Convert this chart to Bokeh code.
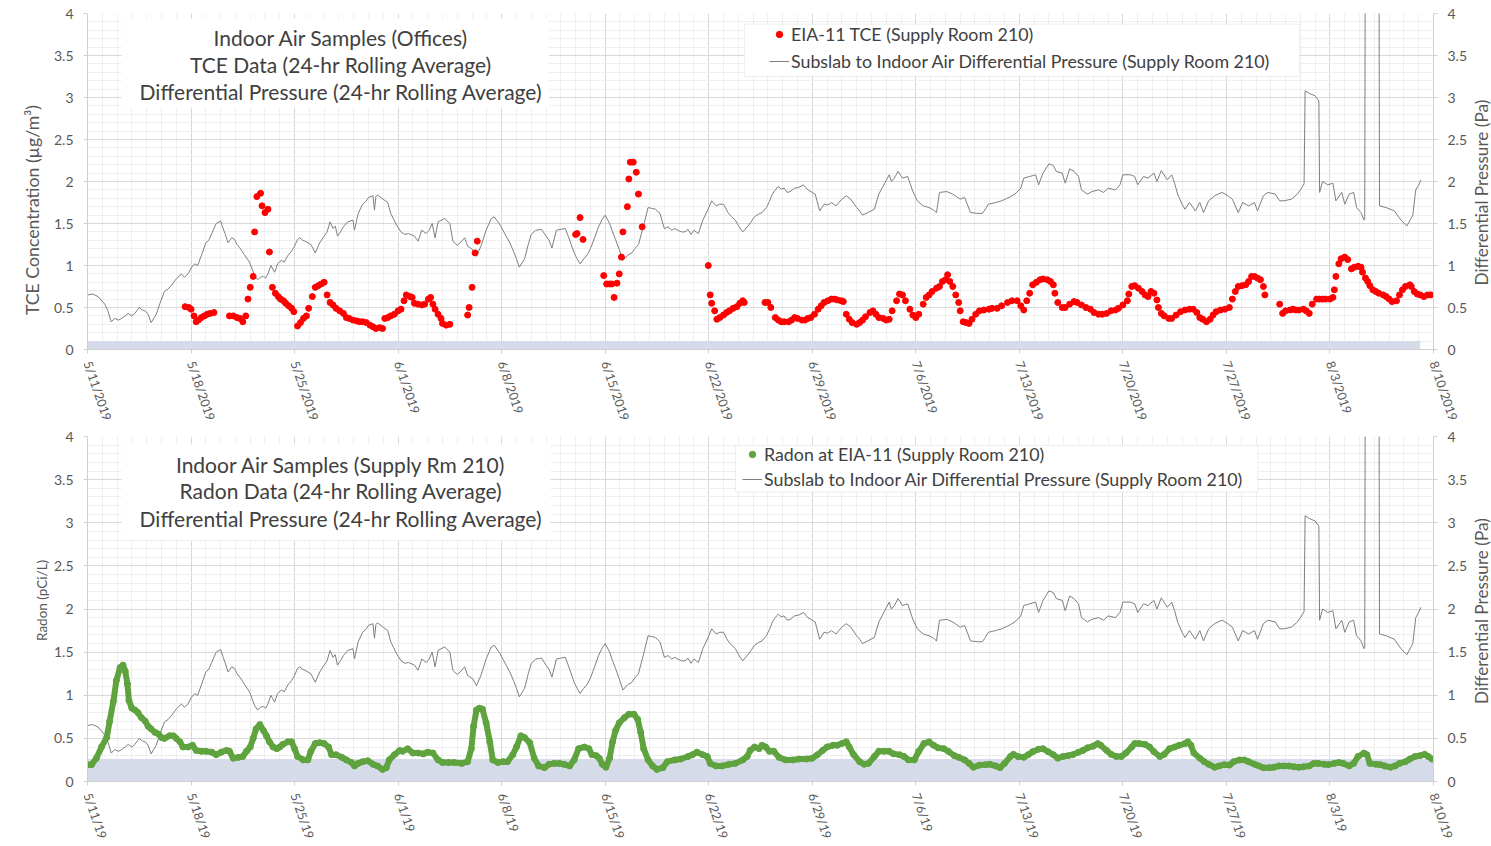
import math
from bokeh.plotting import figure
from bokeh.layouts import column, row
from bokeh.models import (Range1d, LinearAxis, FixedTicker, Legend, LegendItem,
                          BoxAnnotation, Label)
from bokeh.embed import file_html
from bokeh.resources import INLINE

FONT = "Lato"

# ---------------------------------------------------------------- axes / ticks
week_ticks = [0, 7, 14, 21, 28, 35, 42, 49, 56, 63, 70, 77, 84, 91]
day_ticks = list(range(0, 92))
tce_date_labels = ["5/11/2019", "5/18/2019", "5/25/2019", "6/1/2019", "6/8/2019",
                   "6/15/2019", "6/22/2019", "6/29/2019", "7/6/2019", "7/13/2019",
                   "7/20/2019", "7/27/2019", "8/3/2019", "8/10/2019"]
radon_date_labels = ["5/11/19", "5/18/19", "5/25/19", "6/1/19", "6/8/19",
                     "6/15/19", "6/22/19", "6/29/19", "7/6/19", "7/13/19",
                     "7/20/19", "7/27/19", "8/3/19", "8/10/19"]
y_ticks = [0, 0.5, 1, 1.5, 2, 2.5, 3, 3.5, 4]
y_tick_labels = ["0", "0.5", "1", "1.5", "2", "2.5", "3", "3.5", "4"]
y_minor = [i / 10 for i in range(41)]

# ------------------------------------------- differential pressure (Pa), days since 5/11/2019
dp_day = [0.0, 0.35, 0.72, 1.17, 1.4, 1.6, 1.85, 2.1, 2.3, 2.55, 2.75, 3.0, 3.2, 3.5, 3.7, 3.9, 4.1, 4.3, 4.65, 4.9,
          5.2, 5.45, 5.7, 6.0, 6.35, 6.55, 6.8, 7.0, 7.25, 7.45, 7.7, 8.0, 8.2, 8.4, 8.7, 9.0, 9.15, 9.3, 9.5, 9.75,
          9.95, 10.1, 10.3, 10.6, 10.95, 11.3, 11.5, 11.7, 11.9, 12.05, 12.2, 12.4, 12.65, 12.85, 13.1, 13.3, 13.55, 13.8, 14.0, 14.2,
          14.35, 14.55, 14.7, 15.1, 15.4, 15.7, 16.0, 16.2, 16.4, 16.6, 16.75, 16.9, 17.1, 17.3, 17.6, 17.95, 18.05, 18.3, 18.6, 18.8,
          19.0, 19.3, 19.4, 19.5, 19.6, 19.98, 20.3, 20.5, 20.7, 20.9, 21.2, 21.45, 21.7, 22.1, 22.35, 22.6, 22.9, 23.1, 23.3, 23.5,
          23.7, 24.15, 24.5, 24.7, 25.0, 25.25, 25.5, 25.7, 26.05, 26.3, 26.6, 26.95, 27.3, 27.5, 27.9, 28.3, 28.55, 28.8, 29.0, 29.2,
          29.55, 29.8, 30.0, 30.3, 30.7, 31.0, 31.2, 31.4, 31.7, 32.0, 32.3, 32.5, 32.7, 32.9, 33.1, 33.3, 33.55, 33.8, 34.0, 34.2,
          34.55, 34.8, 35.0, 35.3, 35.5, 35.7, 35.95, 36.2, 36.5, 36.8, 37.0, 37.25, 37.6, 37.9, 38.15, 38.4, 38.7, 39.0, 39.25, 39.5,
          39.7, 39.9, 40.15, 40.4, 40.6, 40.8, 41.0, 41.3, 41.6, 41.96, 42.2, 42.5, 42.75, 43.0, 43.3, 43.55, 43.8, 44.05, 44.3, 44.7,
          45.1, 45.35, 45.6, 45.9, 46.1, 46.3, 46.5, 46.7, 46.9, 47.1, 47.3, 47.5, 47.8, 48.1, 48.4, 48.7, 49.0, 49.2, 49.5, 49.8,
          50.05, 50.3, 50.6, 51.0, 51.3, 51.6, 52.0, 52.2, 52.4, 52.75, 53.2, 53.5, 53.9, 54.2, 54.35, 54.55, 54.8, 55.1, 55.45, 55.8,
          56.1, 56.5, 56.9, 57.2, 57.4, 57.6, 58.1, 58.5, 59.0, 59.3, 59.7, 60.2, 60.5, 60.7, 60.9, 61.4, 61.8, 62.3, 62.7, 63.1,
          63.3, 63.7, 64.1, 64.3, 64.6, 65.0, 65.3, 65.5, 65.9, 66.1, 66.4, 66.7, 67.0, 67.2, 67.6, 67.9, 68.35, 68.7, 69.0, 69.5,
          69.8, 70.0, 70.5, 70.8, 71.0, 71.4, 71.7, 72.1, 72.3, 72.6, 73.0, 73.3, 73.5, 73.7, 74.0, 74.2, 74.5, 74.9, 75.2, 75.45,
          75.8, 76.2, 76.7, 77.1, 77.4, 77.8, 78.1, 78.5, 78.9, 79.1, 79.5, 79.8, 80.3, 80.6, 80.9, 81.4, 81.8, 82.0, 82.25, 82.32,
          82.6, 83.0, 83.25, 83.3, 83.5, 83.85, 84.2, 84.4, 84.8, 85.0, 85.3, 85.6, 85.8, 86.1, 86.3, 86.35, 86.4, 87.3, 87.35, 87.8,
          88.35, 88.8, 89.2, 89.45, 89.6, 89.8, 90.0, 90.15]
dp_val = [0.65, 0.66, 0.63, 0.54, 0.45, 0.33, 0.37, 0.35, 0.37, 0.40, 0.43, 0.40, 0.43, 0.50, 0.47, 0.46, 0.42, 0.32, 0.42, 0.55,
          0.69, 0.72, 0.77, 0.84, 0.90, 0.86, 0.90, 0.97, 1.02, 1.00, 1.12, 1.27, 1.30, 1.38, 1.50, 1.53, 1.45, 1.38, 1.27, 1.33,
          1.31, 1.25, 1.21, 1.13, 1.04, 0.88, 0.83, 0.86, 0.87, 0.85, 0.90, 1.00, 0.92, 1.02, 1.06, 1.04, 1.12, 1.17, 1.23, 1.31,
          1.33, 1.30, 1.29, 1.25, 1.15, 1.27, 1.35, 1.40, 1.52, 1.44, 1.47, 1.35, 1.40, 1.46, 1.52, 1.54, 1.42, 1.62, 1.73, 1.76,
          1.81, 1.83, 1.66, 1.82, 1.84, 1.79, 1.75, 1.62, 1.55, 1.48, 1.40, 1.37, 1.38, 1.35, 1.29, 1.42, 1.38, 1.42, 1.50, 1.33,
          1.52, 1.56, 1.50, 1.29, 1.24, 1.28, 1.33, 1.23, 1.19, 1.11, 1.23, 1.42, 1.56, 1.58, 1.48, 1.35, 1.27, 1.17, 1.08, 0.98,
          1.08, 1.25, 1.37, 1.42, 1.43, 1.35, 1.30, 1.21, 1.42, 1.43, 1.44, 1.35, 1.25, 1.15, 1.08, 1.02, 1.08, 1.13, 1.20, 1.29,
          1.46, 1.55, 1.60, 1.50, 1.40, 1.31, 1.19, 1.06, 1.12, 1.15, 1.20, 1.25, 1.48, 1.69, 1.68, 1.67, 1.62, 1.44, 1.46, 1.42,
          1.44, 1.42, 1.40, 1.40, 1.43, 1.37, 1.42, 1.38, 1.54, 1.67, 1.77, 1.71, 1.73, 1.73, 1.63, 1.58, 1.54, 1.46, 1.40, 1.48,
          1.58, 1.61, 1.63, 1.69, 1.76, 1.85, 1.90, 1.94, 1.91, 1.92, 1.87, 1.88, 1.92, 1.93, 1.96, 1.90, 1.87, 1.85, 1.65, 1.73,
          1.72, 1.75, 1.71, 1.79, 1.83, 1.79, 1.69, 1.65, 1.60, 1.63, 1.67, 1.85, 1.98, 2.08, 2.00, 2.04, 2.12, 2.04, 2.06, 1.88,
          1.77, 1.71, 1.69, 1.66, 1.63, 1.87, 1.88, 1.85, 1.79, 1.81, 1.63, 1.62, 1.62, 1.67, 1.73, 1.75, 1.77, 1.81, 1.85, 1.92,
          2.04, 2.06, 2.08, 1.96, 2.10, 2.21, 2.19, 2.12, 2.10, 1.98, 2.15, 2.12, 2.06, 1.90, 1.85, 1.88, 1.90, 1.87, 1.92, 1.90,
          1.96, 2.08, 2.08, 2.06, 1.96, 2.06, 2.04, 2.10, 2.00, 2.13, 2.02, 2.08, 1.98, 1.85, 1.73, 1.67, 1.75, 1.65, 1.75, 1.63,
          1.77, 1.83, 1.87, 1.83, 1.79, 1.63, 1.75, 1.71, 1.75, 1.65, 1.83, 1.87, 1.85, 1.77, 1.77, 1.79, 1.85, 1.90, 1.97, 3.08,
          3.05, 3.02, 2.96, 1.87, 2.00, 1.96, 1.98, 1.77, 1.87, 1.73, 1.85, 1.87, 1.69, 1.63, 1.54, 1.55, 6.00, 6.00, 1.71, 1.69,
          1.65, 1.54, 1.47, 1.55, 1.60, 1.90, 1.96, 2.02]

# ------------------------------------------- EIA-11 TCE (ug/m3), 24-hr rolling average
tce_day = [6.6, 6.85, 7.0, 7.2, 7.35, 7.5, 7.7, 7.9, 8.1, 8.3, 8.55,
           9.6, 9.85, 10.1, 10.3, 10.5, 10.7, 10.85, 11.0, 11.2, 11.3, 11.45, 11.7, 11.8, 12.0, 12.2, 12.3, 12.5, 12.7, 12.9, 13.05,
           13.25, 13.4, 13.6, 13.8, 13.95, 14.2, 14.4, 14.6, 14.8, 14.95, 15.2, 15.4, 15.6, 15.8, 16.0, 16.2, 16.4, 16.6, 16.8, 17.05,
           17.3, 17.5, 17.7, 17.95, 18.2, 18.4, 18.6, 18.85, 19.1, 19.3, 19.5, 19.75, 19.95, 20.1, 20.3, 20.5, 20.75, 21.0, 21.2, 21.4,
           21.55, 21.8, 21.95, 22.1, 22.35, 22.6, 22.8, 23.05, 23.2, 23.35, 23.5, 23.7, 23.9, 24.0, 24.25, 24.5,
           25.7, 25.8, 26.0, 26.2, 26.35,
           33.0, 33.1, 33.3, 33.5,
           34.9, 35.1, 35.3, 35.45, 35.6, 35.8, 35.95, 36.1, 36.2, 36.5, 36.6, 36.7, 36.9, 37.1, 37.25, 37.5,
           41.97, 42.1, 42.2, 42.4, 42.55, 42.75, 43.0, 43.2, 43.4, 43.65, 43.9, 44.1, 44.3, 44.4,
           45.8, 46.0, 46.2, 46.5, 46.7, 46.9, 47.1, 47.4, 47.6, 47.8, 48.0, 48.3, 48.5, 48.7, 48.9, 49.15, 49.4, 49.6, 49.8, 50.05,
           50.3, 50.5, 50.7, 50.95, 51.1, 51.3, 51.5, 51.7, 52.0, 52.2, 52.4, 52.6, 52.9, 53.1, 53.3, 53.5, 53.8, 54.0, 54.2, 54.4,
           54.7, 54.9, 55.1, 55.3, 55.6, 55.8, 56.0, 56.2, 56.5, 56.7, 56.9, 57.1, 57.4, 57.6, 57.8, 58.0, 58.15, 58.3, 58.5, 58.7,
           58.9, 59.0, 59.2, 59.4, 59.6, 59.8, 60.05, 60.3, 60.6, 60.95,
           61.15, 61.5, 61.8, 62.2, 62.5, 62.85, 63.1, 63.3, 63.5, 63.7, 63.9, 64.15, 64.4, 64.6, 64.9, 65.1, 65.3, 65.4, 65.6, 65.9,
           66.1, 66.4, 66.7, 66.9, 67.2, 67.5, 67.8, 68.05, 68.35, 68.6, 68.9, 69.2, 69.5, 69.7, 70.0, 70.3, 70.4, 70.6, 70.8, 71.05,
           71.3, 71.5, 71.7, 71.9, 72.1, 72.3, 72.4, 72.6, 72.8, 73.1, 73.3, 73.6, 73.9, 74.2, 74.5, 74.75, 75.0, 75.2, 75.4, 75.65,
           75.9, 76.1, 76.3, 76.6, 76.9, 77.2, 77.4, 77.6, 77.8, 78.05, 78.3, 78.5, 78.7, 78.9, 79.1, 79.3, 79.5, 79.6,
           80.6, 80.8, 81.0, 81.3, 81.5, 81.7, 81.9, 82.2, 82.4, 82.6, 82.8, 83.1, 83.3, 83.5, 83.7, 84.0, 84.2, 84.3, 84.4, 84.6,
           84.75, 85.0, 85.2, 85.45, 85.65, 85.9, 86.1, 86.2, 86.4, 86.55, 86.7, 86.9, 87.1, 87.3, 87.6, 87.8, 88.0, 88.2, 88.5, 88.7,
           88.9, 89.1, 89.4, 89.5, 89.7, 89.9, 90.1, 90.35, 90.6, 90.8]
tce_val = [0.51, 0.50, 0.48, 0.40, 0.33, 0.35, 0.38, 0.40, 0.42, 0.43, 0.44,
           0.40, 0.40, 0.38, 0.37, 0.33, 0.40, 0.60, 0.74, 0.87, 1.40, 1.82, 1.86, 1.71, 1.63, 1.67, 1.16, 0.74, 0.67, 0.63, 0.60,
           0.58, 0.55, 0.52, 0.49, 0.45, 0.28, 0.32, 0.37, 0.40, 0.49, 0.63, 0.74, 0.76, 0.78, 0.80, 0.65, 0.56, 0.53, 0.49, 0.46,
           0.43, 0.38, 0.37, 0.35, 0.34, 0.33, 0.33, 0.32, 0.29, 0.27, 0.25, 0.26, 0.25, 0.37, 0.38, 0.40, 0.42, 0.46, 0.48, 0.58,
           0.65, 0.63, 0.62, 0.55, 0.54, 0.53, 0.54, 0.60, 0.62, 0.54, 0.48, 0.42, 0.37, 0.31, 0.29, 0.30,
           0.41, 0.50, 0.74, 1.15, 1.29,
           1.37, 1.38, 1.57, 1.31,
           0.88, 0.78, 0.78, 0.78, 0.62, 0.79, 0.90, 1.10, 1.40, 1.70, 2.03, 2.23, 2.23, 2.11, 1.85, 1.46,
           1.00, 0.65, 0.55, 0.46, 0.36, 0.38, 0.41, 0.44, 0.46, 0.49, 0.51, 0.55, 0.58, 0.56,
           0.56, 0.56, 0.50, 0.38, 0.35, 0.33, 0.33, 0.33, 0.35, 0.38, 0.37, 0.35, 0.35, 0.37, 0.38, 0.42, 0.48, 0.52, 0.56, 0.58,
           0.60, 0.60, 0.59, 0.58, 0.57, 0.42, 0.36, 0.32, 0.30, 0.32, 0.35, 0.39, 0.44, 0.46, 0.42, 0.38, 0.37, 0.35, 0.36, 0.46,
           0.58, 0.66, 0.65, 0.58, 0.48, 0.41, 0.38, 0.42, 0.54, 0.62, 0.65, 0.69, 0.73, 0.75, 0.81, 0.83, 0.89, 0.81, 0.75, 0.65,
           0.56, 0.46, 0.33, 0.32, 0.31, 0.36, 0.42, 0.46, 0.47, 0.48,
           0.49, 0.49, 0.52, 0.56, 0.58, 0.58, 0.52, 0.47, 0.58, 0.67, 0.77, 0.80, 0.83, 0.84, 0.83, 0.81, 0.77, 0.67, 0.56, 0.50,
           0.50, 0.54, 0.57, 0.56, 0.53, 0.50, 0.48, 0.44, 0.42, 0.42, 0.43, 0.46, 0.47, 0.49, 0.53, 0.58, 0.66, 0.75, 0.76, 0.73,
           0.69, 0.65, 0.63, 0.69, 0.67, 0.59, 0.50, 0.43, 0.40, 0.37, 0.37, 0.41, 0.45, 0.47, 0.48, 0.48, 0.44, 0.38, 0.36, 0.33,
           0.36, 0.41, 0.45, 0.47, 0.48, 0.50, 0.60, 0.69, 0.75, 0.76, 0.77, 0.81, 0.87, 0.87, 0.85, 0.83, 0.75, 0.65,
           0.54, 0.43, 0.46, 0.47, 0.48, 0.47, 0.47, 0.48, 0.46, 0.43, 0.54, 0.60, 0.60, 0.60, 0.60, 0.60, 0.62, 0.71, 0.87, 1.02,
           1.08, 1.10, 1.07, 0.96, 0.98, 0.99, 0.98, 0.92, 0.85, 0.81, 0.76, 0.71, 0.69, 0.67, 0.65, 0.63, 0.60, 0.57, 0.58, 0.65,
           0.71, 0.75, 0.77, 0.75, 0.69, 0.66, 0.65, 0.63, 0.65, 0.65]

# ------------------------------------------- Radon at EIA-11 (pCi/L), 24-hr rolling average
rn_day = [0.0, 0.27, 0.6, 0.95, 1.3, 1.5, 1.75, 1.95, 2.2, 2.4, 2.55, 2.7, 2.8, 3.0, 3.2, 3.4, 3.65, 3.9, 4.1, 4.3,
          4.55, 4.8, 5.0, 5.2, 5.55, 5.8, 6.0, 6.25, 6.45, 6.8, 7.1, 7.35, 7.7, 8.0, 8.4, 8.7, 9.05, 9.4, 9.6, 9.85,
          10.2, 10.5, 10.75, 11.0, 11.2, 11.4, 11.65, 11.9, 12.1, 12.3, 12.55, 12.8, 13.0, 13.2, 13.55, 13.8, 14.0, 14.2, 14.6, 14.9,
          15.1, 15.4, 15.7, 16.0, 16.3, 16.5, 16.8, 17.2, 17.5, 17.85, 18.05, 18.3, 18.6, 18.95, 19.3, 19.6, 19.95, 20.2, 20.4, 20.75,
          21.1, 21.3, 21.65, 22.0, 22.35, 22.7, 23.0, 23.35, 23.7, 24.0, 24.4, 24.8, 25.3, 25.7, 25.95, 26.1, 26.3, 26.5, 26.7, 26.95,
          27.2, 27.4, 27.75, 28.1, 28.4, 28.75, 29.0, 29.3, 29.55, 29.9, 30.2, 30.5, 30.9, 31.2, 31.55, 31.9, 32.2, 32.6, 32.9, 33.2,
          33.6, 33.9, 34.1, 34.4, 34.6, 34.8, 35.05, 35.3, 35.5, 35.7, 35.95, 36.3, 36.6, 36.95, 37.2, 37.4, 37.6, 37.9, 38.2, 38.5,
          38.9, 39.2, 39.7, 40.1, 40.6, 40.9, 41.2, 41.6, 41.9, 42.1, 42.5, 42.9, 43.4, 43.8, 44.3, 44.6, 44.8, 45.1, 45.4, 45.6,
          45.85, 46.1, 46.4, 46.75, 47.2, 47.7, 48.1, 48.6, 49.0, 49.35, 49.7, 50.0, 50.4, 50.7, 51.0, 51.3, 51.5, 51.8, 52.2, 52.5,
          52.8, 53.2, 53.5, 53.85, 54.2, 54.5, 54.9, 55.2, 55.5, 55.9, 56.2, 56.55, 56.9, 57.2, 57.5, 57.9, 58.2, 58.6, 58.9, 59.3,
          59.6, 59.9, 60.3, 60.7, 61.0, 61.4, 61.7, 62.0, 62.4, 62.6, 62.9, 63.3, 63.6, 63.9, 64.3, 64.6, 64.95, 65.3, 65.6, 65.95,
          66.3, 66.6, 67.0, 67.3, 67.6, 68.0, 68.3, 68.5, 68.9, 69.2, 69.55, 69.9, 70.2, 70.6, 70.8, 71.1, 71.5, 71.8, 72.1, 72.5,
          72.8, 73.15, 73.5, 73.8, 74.2, 74.4, 74.6, 74.8, 75.2, 75.5, 75.8, 76.2, 76.5, 76.85, 77.2, 77.5, 77.9, 78.2, 78.5, 78.9,
          79.2, 79.5, 79.9, 80.2, 80.55, 80.9, 81.2, 81.6, 81.9, 82.2, 82.6, 82.9, 83.2, 83.6, 83.9, 84.3, 84.6, 84.9, 85.3, 85.6,
          85.9, 86.3, 86.5, 86.7, 87.1, 87.4, 87.7, 88.1, 88.4, 88.7, 89.1, 89.4, 89.75, 90.1, 90.4, 90.65, 90.9]
rn_val = [0.195, 0.195, 0.27, 0.40, 0.51, 0.70, 0.93, 1.17, 1.32, 1.35, 1.28, 1.13, 0.94, 0.85, 0.83, 0.80, 0.74, 0.70, 0.64, 0.61,
          0.57, 0.55, 0.51, 0.50, 0.53, 0.53, 0.50, 0.46, 0.40, 0.40, 0.42, 0.36, 0.35, 0.35, 0.34, 0.31, 0.34, 0.36, 0.35, 0.27,
          0.28, 0.29, 0.35, 0.40, 0.50, 0.61, 0.66, 0.59, 0.53, 0.46, 0.40, 0.38, 0.40, 0.43, 0.46, 0.46, 0.38, 0.29, 0.25, 0.25,
          0.35, 0.44, 0.45, 0.44, 0.40, 0.31, 0.31, 0.28, 0.25, 0.22, 0.18, 0.21, 0.23, 0.24, 0.20, 0.18, 0.14, 0.16, 0.25, 0.31,
          0.36, 0.35, 0.38, 0.33, 0.33, 0.32, 0.34, 0.33, 0.25, 0.22, 0.22, 0.22, 0.21, 0.23, 0.38, 0.64, 0.83, 0.85, 0.84, 0.68,
          0.46, 0.25, 0.22, 0.23, 0.23, 0.31, 0.40, 0.53, 0.51, 0.45, 0.27, 0.18, 0.16, 0.20, 0.21, 0.21, 0.20, 0.18, 0.25, 0.38,
          0.40, 0.38, 0.31, 0.30, 0.27, 0.20, 0.165, 0.27, 0.46, 0.59, 0.68, 0.74, 0.78, 0.78, 0.72, 0.57, 0.38, 0.25, 0.18, 0.14,
          0.16, 0.23, 0.25, 0.26, 0.29, 0.31, 0.34, 0.31, 0.29, 0.21, 0.18, 0.18, 0.20, 0.21, 0.25, 0.29, 0.36, 0.40, 0.38, 0.42,
          0.40, 0.35, 0.35, 0.28, 0.25, 0.25, 0.26, 0.26, 0.27, 0.31, 0.36, 0.40, 0.42, 0.42, 0.44, 0.46, 0.40, 0.31, 0.23, 0.20,
          0.21, 0.29, 0.35, 0.35, 0.35, 0.32, 0.31, 0.29, 0.25, 0.25, 0.35, 0.44, 0.46, 0.42, 0.39, 0.38, 0.35, 0.30, 0.28, 0.25,
          0.21, 0.165, 0.19, 0.195, 0.20, 0.18, 0.16, 0.21, 0.29, 0.315, 0.29, 0.28, 0.31, 0.345, 0.375, 0.38, 0.345, 0.31, 0.27, 0.29,
          0.30, 0.31, 0.34, 0.36, 0.39, 0.41, 0.44, 0.42, 0.36, 0.315, 0.29, 0.29, 0.33, 0.40, 0.44, 0.44, 0.43, 0.40, 0.345, 0.29,
          0.315, 0.38, 0.40, 0.42, 0.44, 0.46, 0.42, 0.33, 0.27, 0.23, 0.20, 0.165, 0.18, 0.195, 0.19, 0.23, 0.25, 0.25, 0.23, 0.20,
          0.18, 0.16, 0.16, 0.165, 0.18, 0.18, 0.18, 0.17, 0.165, 0.17, 0.18, 0.21, 0.21, 0.20, 0.195, 0.21, 0.22, 0.21, 0.18, 0.21,
          0.29, 0.33, 0.31, 0.21, 0.20, 0.195, 0.18, 0.165, 0.18, 0.21, 0.23, 0.26, 0.29, 0.30, 0.315, 0.29, 0.26]

# shaded reference bands: (start day, end day, upper value)
tce_band = (0, 90.1, 0.10)
radon_band = (0, 91, 0.26)

assert len(dp_day) == len(dp_val)
assert len(tce_day) == len(tce_val)
assert len(rn_day) == len(rn_val)

TXT = "#404040"
TICK_TXT = "#595959"
AXIS_LINE = "#d0d0d0"
BAND = "#d5dbe8"
DP_GRAY = "#7f7f7f"
TCE_RED = "#ff0000"
RN_GREEN = "#5fa33f"

LEFT_W, RIGHT_W = 50, 21          # strips holding the vertical axis titles
MAIN_W = 1491 - LEFT_W - RIGHT_W


def style_axis(ax):
    ax.axis_line_color = AXIS_LINE
    ax.major_tick_line_color = AXIS_LINE
    ax.major_tick_in = 0
    ax.major_tick_out = 4
    ax.minor_tick_line_color = None
    ax.major_label_text_font = FONT
    ax.major_label_text_font_size = "14px"
    ax.major_label_text_color = TICK_TXT


def make_panel(height, border_top, border_bottom, date_labels):
    p = figure(width=MAIN_W, height=height, x_range=Range1d(0, 91), y_range=Range1d(0, 4),
               output_backend="svg", toolbar_location=None,
               min_border_left=86 - LEFT_W, min_border_right=MAIN_W + LEFT_W - 1434,
               min_border_top=border_top, min_border_bottom=border_bottom,
               outline_line_color=None, background_fill_color="white",
               border_fill_color="white")
    p.extra_y_ranges = {"dp": Range1d(0, 4)}

    xt = FixedTicker(ticks=week_ticks, minor_ticks=day_ticks)
    yt = FixedTicker(ticks=y_ticks, minor_ticks=y_minor)

    xa = p.xaxis[0]
    xa.ticker = xt
    xa.major_label_overrides = dict(zip(week_ticks, date_labels))
    xa.major_label_orientation = -1.24
    xa.major_label_standoff = 8
    style_axis(xa)
    xa.major_label_text_font_size = "12.5px"

    ya = p.yaxis[0]
    ya.ticker = yt
    ya.major_label_overrides = dict(zip(y_ticks, y_tick_labels))
    ya.major_label_standoff = 10
    style_axis(ya)

    ra = LinearAxis(y_range_name="dp", ticker=FixedTicker(ticks=y_ticks))
    ra.major_label_overrides = dict(zip(y_ticks, y_tick_labels))
    ra.major_label_standoff = 10
    style_axis(ra)
    p.add_layout(ra, "right")

    p.xgrid.ticker = xt
    p.ygrid.ticker = yt
    for g in (p.xgrid, p.ygrid):
        g.grid_line_color = "#d9d9d9"
        g.grid_line_width = 1
        g.minor_grid_line_color = "#efefef"
        g.minor_grid_line_width = 1
    return p


def title_strip(width, height, text, x, y, size):
    # narrow blank canvas carrying one vertical axis title (reads bottom to top);
    # its frame lines up with the neighbouring chart's frame
    s = figure(width=width, height=height, x_range=Range1d(0, 1), y_range=Range1d(0, 1),
               x_axis_type=None, y_axis_type=None, output_backend="svg",
               toolbar_location=None, min_border=0, outline_line_color=None,
               background_fill_color="white", border_fill_color="white")
    s.add_layout(Label(x=x, y=y, text=text, angle=math.pi / 2, text_align="center",
                       text_baseline="middle", text_font=FONT, text_font_size=size,
                       text_color=TICK_TXT))
    return s


def add_title(p, lines, ys, box):
    left, right, top, bottom = box
    p.add_layout(BoxAnnotation(left=left, right=right, top=top, bottom=bottom,
                               fill_color="white", fill_alpha=1.0, line_color=None,
                               level="underlay"))
    for text, y in zip(lines, ys):
        p.add_layout(Label(x=17.15, y=y, text=text, text_align="center",
                           text_baseline="middle", text_font=FONT,
                           text_font_size="21px", text_color=TXT))


def add_legend(p, items, location, box, label_height):
    left, right, top, bottom = box
    p.add_layout(BoxAnnotation(left=left, right=right, top=top, bottom=bottom,
                               fill_color="white", fill_alpha=1.0,
                               line_color="#c8c8c8", line_width=1))
    leg = Legend(items=items, location=location, orientation="vertical",
                 background_fill_alpha=0, border_line_color=None,
                 label_text_font=FONT, label_text_font_size="17.8px",
                 label_text_color=TXT, glyph_width=20, glyph_height=16,
                 label_height=label_height, label_standoff=2, padding=2,
                 spacing=2, margin=0)
    p.add_layout(leg)


# ---------------------------------------------------------------- TCE panel
top = make_panel(428, 13, 68, tce_date_labels)
top.quad(left=[tce_band[0]], right=[tce_band[1]], bottom=[0], top=[tce_band[2]],
         fill_color=BAND, line_color=None)
r_dp_top = top.line(dp_day, dp_val, y_range_name="dp", line_color=DP_GRAY, line_width=1)
r_tce = top.scatter(tce_day, tce_val, size=6, fill_color=TCE_RED, line_color=TCE_RED)
add_title(top, ["Indoor Air Samples (Offices)", "TCE Data (24-hr Rolling Average)",
                "Differential Pressure (24-hr Rolling Average)"],
          [3.71, 3.39, 3.07], (2.3, 31.2, 3.94, 2.88))
add_legend(top, [LegendItem(label="EIA-11 TCE (Supply Room 210)", renderers=[r_tce]),
                 LegendItem(label="Subslab to Indoor Air Differential Pressure (Supply Room 210)",
                            renderers=[r_dp_top])],
           (682, 276), (44.42, 81.96, 3.873, 3.251), 25)
top_left = title_strip(LEFT_W, 428, "TCE Concentration (\u00b5g/m\u00b3)", 0.64, 0.415, "17.7px")
top_right = title_strip(RIGHT_W, 428, "Differential Pressure (Pa)", 0.5, 0.467, "17.2px")

# ---------------------------------------------------------------- Radon panel
bottom = make_panel(418, 8, 56, radon_date_labels)
bottom.quad(left=[radon_band[0]], right=[radon_band[1]], bottom=[0], top=[radon_band[2]],
            fill_color=BAND, line_color=None)
r_dp_bot = bottom.line(dp_day, dp_val, y_range_name="dp", line_color=DP_GRAY, line_width=1)
bottom.line(rn_day, rn_val, line_color=RN_GREEN, line_width=6)
r_rn = bottom.scatter(rn_day, rn_val, size=6, fill_color=RN_GREEN, line_color=RN_GREEN)
add_title(bottom, ["Indoor Air Samples (Supply Rm 210)", "Radon Data (24-hr Rolling Average)",
                   "Differential Pressure (24-hr Rolling Average)"],
          [3.68, 3.37, 3.05], (2.3, 31.3, 3.91, 2.80))
add_legend(bottom, [LegendItem(label="Radon at EIA-11 (Supply Room 210)", renderers=[r_rn]),
                    LegendItem(label="Subslab to Indoor Air Differential Pressure (Supply Room 210)",
                               renderers=[r_dp_bot])],
           (655, 291), (43.81, 79.12, 3.898, 3.356), 23)
bot_left = title_strip(LEFT_W, 418, "Radon (pCi/L)", 0.82, 0.525, "13.5px")
bot_right = title_strip(RIGHT_W, 418, "Differential Pressure (Pa)", 0.5, 0.494, "17.2px")

page = column(row(top_left, top, top_right, spacing=0),
              row(bot_left, bottom, bot_right, spacing=0), spacing=0)
open("out.html", "w").write(file_html(page, INLINE))
